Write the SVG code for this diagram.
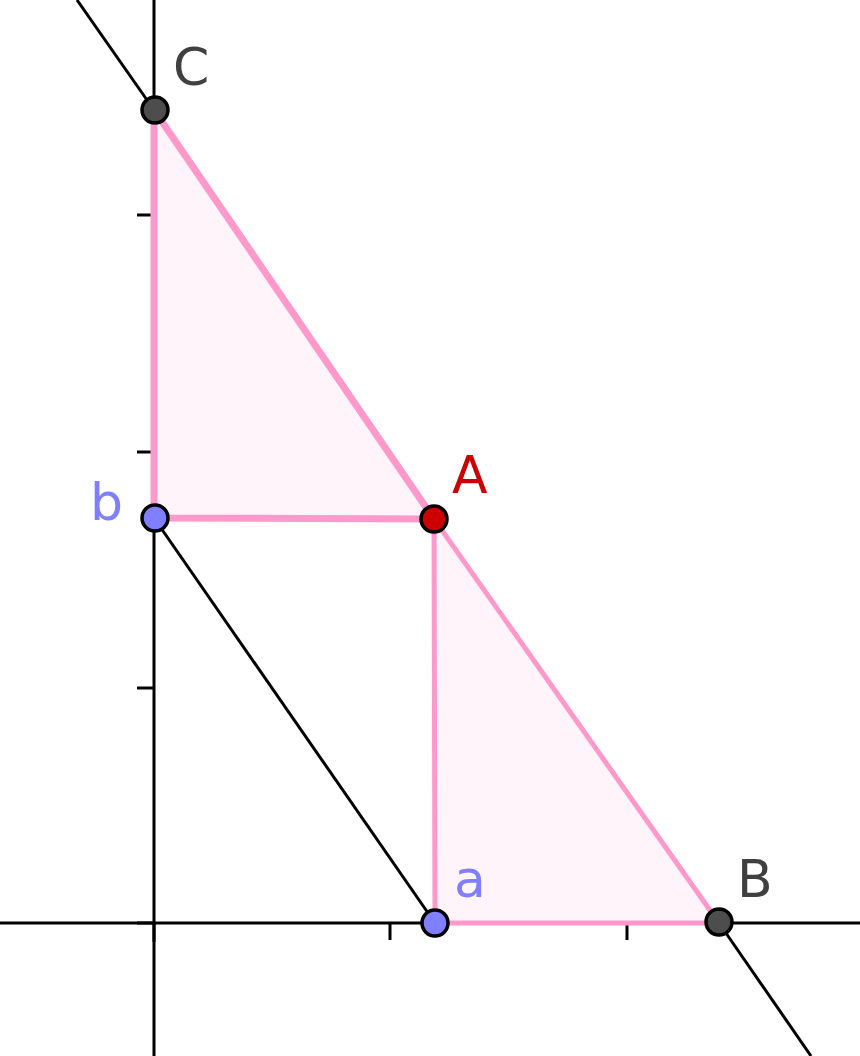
<svg xmlns="http://www.w3.org/2000/svg" width="860" height="1056" viewBox="0 0 860 1056">
<style>
.ax{stroke:#000;stroke-width:3;fill:none}
.ln{stroke:#000;stroke-width:3;fill:none}
.tri{fill:#ff66b3;fill-opacity:0.07;stroke:#ff99cc;stroke-linejoin:round}
.pt{stroke:#000;stroke-width:3.5}
.lbl{font-family:"DejaVu Sans",sans-serif;font-size:52px}
</style>
<rect width="860" height="1056" fill="#fff"/>
<g id="axes">
<line class="ax" x1="154" y1="0" x2="154" y2="1056"/>
<line class="ax" x1="0" y1="923" x2="860" y2="923"/>
<line class="ax" x1="137" y1="215" x2="154" y2="215"/>
<line class="ax" x1="137" y1="452" x2="154" y2="452"/>
<line class="ax" x1="137" y1="688" x2="154" y2="688"/>
<line class="ax" x1="137" y1="923" x2="154" y2="923"/>
<line class="ax" x1="390" y1="923" x2="390" y2="940"/>
<line class="ax" x1="627" y1="923" x2="627" y2="940"/>
<line class="ax" x1="154" y1="923" x2="154" y2="942"/>
</g>
<g id="triangles">
<polygon id="tri1" class="tri" stroke-width="7" points="154,110 154,518 434,519"/>
<polygon id="tri2" class="tri" stroke-width="5" points="434,519 435,923 719,923"/>
</g>
<g id="connectors">
<line class="ln" x1="77" y1="0" x2="154" y2="110"/>
<line class="ln" x1="719" y1="923" x2="811" y2="1056"/>
<line class="ln" x1="154" y1="518" x2="435" y2="923"/>
</g>
<g id="C"><circle class="pt" cx="155" cy="110" r="13" fill="#4d4d4d"/><text class="lbl" x="173" y="85" fill="#404040">C</text></g>
<g id="b"><circle class="pt" cx="155" cy="518" r="13" fill="#7f7fff"/><text class="lbl" x="90" y="520" fill="#7f7fff">b</text></g>
<g id="A"><circle class="pt" cx="434" cy="519" r="13" fill="#cc0000"/><text class="lbl" x="452" y="493" fill="#cc0000">A</text></g>
<g id="a"><circle class="pt" cx="435" cy="923" r="13" fill="#7f7fff"/><text class="lbl" x="454" y="897" fill="#7f7fff">a</text></g>
<g id="B"><circle class="pt" cx="719" cy="922" r="13" fill="#4d4d4d"/><text class="lbl" x="737" y="897" fill="#404040">B</text></g>
</svg>
